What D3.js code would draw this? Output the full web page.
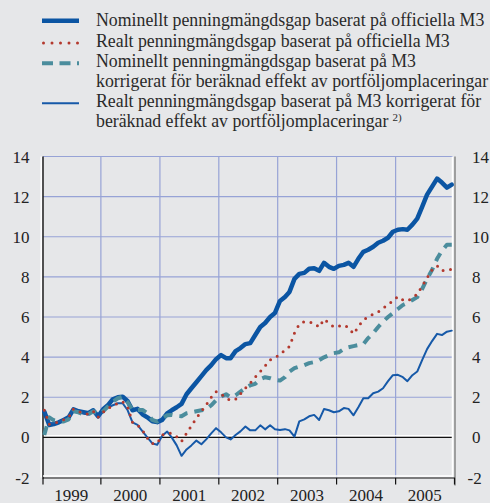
<!DOCTYPE html>
<html>
<head>
<meta charset="utf-8">
<style>
    body { margin: 0; background: #e6e7e9; }
    svg { display: block; font-family: "Liberation Serif", "Times New Roman", serif; }
</style>
<script src="https://cdnjs.cloudflare.com/ajax/libs/d3/7.8.5/d3.min.js"></script>
</head>
<body>
<script>
// monthly values, Jan 1999 - Dec 2005
const nominalOfficial = [
    1.29, 0.62, 0.66, 0.75, 0.87, 1.0, 1.4, 1.3, 1.25, 1.2, 1.35, 1.05,
    1.4, 1.62, 1.9, 2.0, 2.03, 1.8, 1.35, 1.42, 1.15, 1.0, 0.8, 0.76,
    0.87, 1.2, 1.35, 1.5, 1.67, 2.15, 2.45, 2.75, 3.05, 3.35, 3.6, 3.9,
    4.1, 3.95, 3.95, 4.3, 4.45, 4.65, 4.7, 5.1, 5.5, 5.7, 6.0, 6.2,
    6.8, 7.0, 7.25, 7.9, 8.15, 8.2, 8.4, 8.43, 8.3, 8.7, 8.5, 8.4,
    8.55, 8.6, 8.7, 8.5, 8.9, 9.25, 9.35, 9.5, 9.7, 9.8, 9.95, 10.25,
    10.35, 10.38, 10.35, 10.6, 10.9, 11.5, 12.1, 12.5, 12.9, 12.7, 12.45, 12.6
];
const realOfficial = [
    1.35, 0.65, 0.7, 0.78, 0.88, 1.0, 1.42, 1.3, 1.2, 1.15, 1.3, 1.0,
    1.25, 1.45, 1.55, 1.7, 1.78, 1.5, 0.75, 0.62, 0.35, -0.04, -0.3, -0.3,
    0.12, 0.2, 0.2, 0.04, -0.2, 0.2, 0.57, 0.96, 1.29, 1.62, 2.0, 2.28,
    2.17, 1.95, 1.84, 1.9, 2.17, 2.45, 2.7, 3.0, 3.28, 3.56, 3.86, 4.0,
    4.11, 4.36, 4.53, 5.2, 5.64, 5.77, 5.75, 5.69, 5.49, 5.89, 5.69, 5.5,
    5.55, 5.6, 5.47, 5.16, 5.52, 5.86, 6.0, 6.15, 6.25, 6.45, 6.6, 6.82,
    7.02, 6.85, 6.8, 6.95, 7.14, 7.55, 7.94, 8.35, 8.55, 8.3, 8.35, 8.38
];
const nominalCorrected = [
    0.12, 1.0, 0.85, 0.8, 0.79, 0.9, 1.3, 1.25, 1.15, 1.15, 1.3, 1.15,
    1.3, 1.55, 1.78, 1.95, 2.03, 1.75, 1.37, 1.37, 1.37, 1.2, 0.87, 0.79,
    0.95, 1.1, 1.12, 1.07, 1.05, 1.2, 1.25, 1.3, 1.35, 1.4, 1.6, 1.85,
    2.03, 2.15, 2.0, 2.1, 2.28, 2.45, 2.6, 2.67, 2.9, 3.0, 2.95, 2.87,
    2.83, 3.0, 3.28, 3.45, 3.53, 3.6, 3.7, 3.75, 3.85, 3.99, 4.1, 4.2,
    4.24, 4.4, 4.49, 4.55, 4.6, 4.65, 4.95, 5.2, 5.5, 5.77, 6.0, 6.19,
    6.4, 6.6, 6.7, 6.85, 6.99, 7.4, 7.9, 8.35, 8.9, 9.3, 9.6, 9.6
];
const realCorrected = [
    1.35, 0.7, 0.7, 0.78, 0.88, 1.0, 1.42, 1.28, 1.2, 1.15, 1.3, 1.0,
    1.3, 1.5, 1.6, 1.7, 1.7, 1.35, 0.75, 0.62, 0.3, 0.0, -0.3, -0.37,
    0.08, 0.29, 0.0, -0.4, -0.92, -0.6, -0.4, -0.16, -0.34, -0.1, 0.2, 0.46,
    0.25, 0.0, -0.1, 0.12, 0.3, 0.54, 0.35, 0.35, 0.6, 0.4, 0.6, 0.4,
    0.37, 0.41, 0.35, 0.04, 0.8, 0.9, 1.05, 1.12, 0.87, 1.41, 1.35, 1.25,
    1.3, 1.46, 1.42, 1.1, 1.5, 1.95, 1.95, 2.2, 2.28, 2.45, 2.8, 3.1,
    3.12, 3.0, 2.8, 3.1, 3.28, 3.86, 4.4, 4.8, 5.16, 5.1, 5.27, 5.32
];
const years = [1999, 2000, 2001, 2002, 2003, 2004, 2005];
const yTicks = [-2, 0, 2, 4, 6, 8, 10, 12, 14];
const legendLabels = [
    ["Nominellt penningmängdsgap baserat på officiella M3"],
    ["Realt penningmängdsgap baserat på officiella M3"],
    ["Nominellt penningmängdsgap baserat på M3", "korrigerat för beräknad effekt av portföljomplaceringar"],
    ["Realt penningmängdsgap baserat på M3 korrigerat för", "beräknad effekt av portföljomplaceringar"]
];

const months = nominalOfficial.map((d, i) => new Date(1999, i, 15));

const width = 490, height = 503;
const plotLeft = 43, plotRight = 454, plotTop = 156.5, plotBottom = 477.5;

const svg = d3.select("body").append("svg")
    .attr("width", width)
    .attr("height", height);

const x = d3.scaleTime()
    .domain([new Date(1999, 0, 1), new Date(2006, 0, 1)])
    .range([42, 454.5]);
const y = d3.scaleLinear().domain([-2, 14]).range([plotBottom, plotTop]);

const gridColor = "#97a3d6";

// grid
svg.append("g").selectAll("line")
    .data(yTicks.filter(d => d > 0))
    .enter().append("line")
    .attr("x1", plotLeft).attr("x2", plotRight - 1)
    .attr("y1", d => y(d)).attr("y2", d => y(d))
    .style("stroke", gridColor).style("stroke-width", 1.2);

svg.append("g").selectAll("line")
    .data(years.slice(1))
    .enter().append("line")
    .attr("x1", d => x(new Date(d, 0, 1))).attr("x2", d => x(new Date(d, 0, 1)))
    .attr("y1", plotTop).attr("y2", plotBottom)
    .style("stroke", gridColor).style("stroke-width", 1.2);

// zero line and frame
svg.append("line").attr("x1", plotLeft).attr("x2", plotRight - 1)
    .attr("y1", y(0) - 1.6).attr("y2", y(0) - 1.6)
    .style("stroke", "#fff").style("stroke-width", 1.5);
svg.append("line").attr("x1", plotLeft).attr("x2", plotRight - 1)
    .attr("y1", y(0)).attr("y2", y(0))
    .style("stroke", "#111").style("stroke-width", 1.4);

svg.append("line").attr("x1", plotLeft - 1.8).attr("x2", plotLeft - 1.8)
    .attr("y1", plotTop).attr("y2", plotBottom)
    .style("stroke", "#fff").style("stroke-width", 1.5);
svg.append("line").attr("x1", plotLeft).attr("x2", plotLeft)
    .attr("y1", plotTop).attr("y2", plotBottom + 1)
    .style("stroke", "#111").style("stroke-width", 1.4);

svg.append("line").attr("x1", plotRight - 1.5).attr("x2", plotRight - 1.5)
    .attr("y1", plotTop).attr("y2", plotBottom)
    .style("stroke", "#fff").style("stroke-width", 1.5);
svg.append("line").attr("x1", plotRight + 1).attr("x2", plotRight + 1)
    .attr("y1", plotTop).attr("y2", plotBottom + 8)
    .style("stroke", "#777").style("stroke-width", 1.3);

// bottom axis
svg.append("line").attr("x1", plotLeft).attr("x2", plotRight - 1)
    .attr("y1", plotBottom - 1.5).attr("y2", plotBottom - 1.5)
    .style("stroke", "#fff").style("stroke-width", 1.5);
svg.append("line").attr("x1", plotLeft).attr("x2", plotRight + 1)
    .attr("y1", plotBottom + 0.5).attr("y2", plotBottom + 0.5)
    .style("stroke", "#111").style("stroke-width", 1.2);
svg.append("g").selectAll("path")
    .data(years.concat([2006]))
    .enter().append("path")
    .attr("d", d => {
        const px = Math.max(plotLeft, Math.min(x(new Date(d, 0, 1)), plotRight + 1));
        return `M${px},${plotBottom + 0.5}V${plotBottom + 7}`;
    })
    .style("stroke", "#111").style("stroke-width", 1.2).style("fill", "none");

svg.append("g").selectAll("text")
    .data(years)
    .enter().append("text")
    .attr("x", d => x(new Date(d, 6, 1)))
    .attr("y", 500.5)
    .attr("text-anchor", "middle")
    .attr("font-size", 17)
    .style("fill", "#222")
    .text(d => d);

// y labels both sides
svg.append("g").selectAll("text")
    .data(yTicks)
    .enter().append("text")
    .attr("x", 29.5)
    .attr("y", d => y(d) + 6)
    .attr("text-anchor", "end")
    .attr("font-size", 17)
    .style("fill", "#222")
    .text(d => d);

svg.append("g").selectAll("text")
    .data(yTicks)
    .enter().append("text")
    .attr("x", d => d < 0 ? 467.5 : 472)
    .attr("y", d => y(d) + 6)
    .attr("font-size", 17)
    .style("fill", "#222")
    .text(d => d);

// series
const line = d3.line()
    .x((d, i) => x(months[i]))
    .y(d => y(d));

const series = [
    { values: nominalOfficial, color: "#0b55a3", width: 4.5, dash: null, cap: "round" },
    { values: realCorrected, color: "#1659a8", width: 2, dash: null, cap: "round" },
    { values: nominalCorrected, color: "#4b8d9d", width: 4, dash: "9 7", cap: "butt" },
    { values: realOfficial, color: "#b3392e", width: 3, dash: "0 7.5", cap: "round" }
];

series.forEach(s => {
    svg.append("path")
        .datum(s.values)
        .attr("d", line)
        .style("fill", "none")
        .style("stroke", s.color)
        .style("stroke-width", s.width)
        .style("stroke-linecap", s.cap)
        .style("stroke-linejoin", "round")
        .style("stroke-dasharray", s.dash);
});

// legend rows: thick, dotted, dashed, thin
const legendOrder = [0, 3, 2, 1];
const legendY = [20.7, 43, 63.3, 103.3];
const legendText = [[26], [46.5], [66.5, 86.5], [106.5, 126.5]];

legendOrder.forEach((si, row) => {
    const s = series[si];
    const dotted = s.dash === "0 7.5";
    svg.append("line")
        .attr("x1", dotted ? 43.5 : 42).attr("x2", 79)
        .attr("y1", legendY[row]).attr("y2", legendY[row])
        .style("stroke", s.color)
        .style("stroke-width", s.width)
        .style("stroke-linecap", dotted ? "round" : "butt")
        .style("stroke-dasharray", dotted ? "0 8.5" : (s.dash ? "11 6.5" : null));
    legendLabels[row].forEach((t, k) => {
        const txt = svg.append("text")
            .attr("x", 96)
            .attr("y", legendText[row][k])
            .attr("font-size", 17.8)
            .style("fill", "#2a2a2a")
            .text(t);
        if (row === 3 && k === 1) {
            txt.append("tspan")
                .attr("dx", 4).attr("dy", -6)
                .attr("font-size", 11)
                .text("2)");
        }
    });
});
</script>
</body>
</html>
